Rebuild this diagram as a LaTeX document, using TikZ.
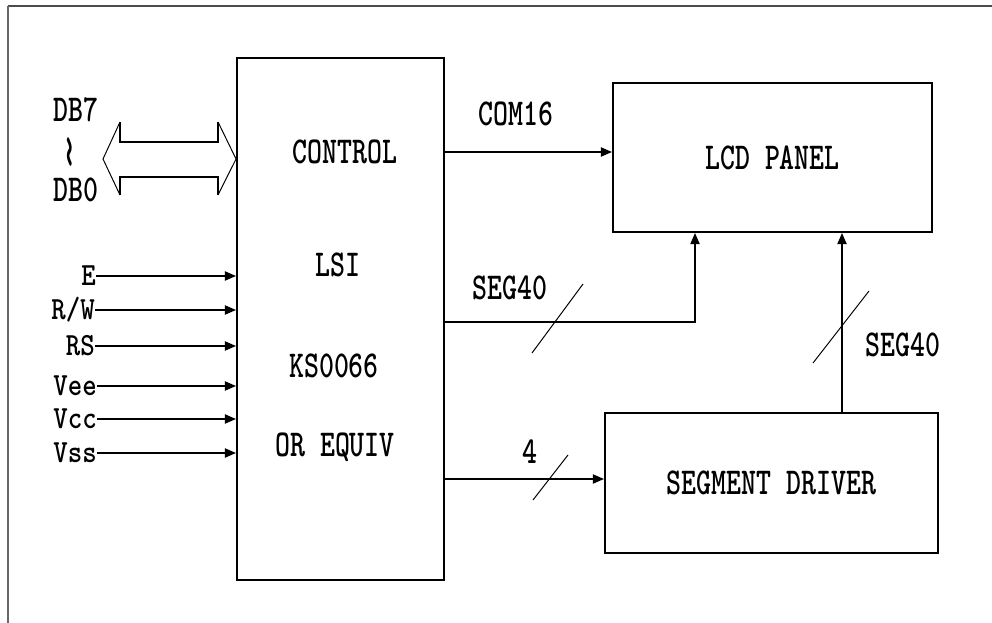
\documentclass[tikz,border=0pt]{standalone}
\usepackage{graphicx}
\usetikzlibrary{positioning,arrows.meta}

\newcommand{\lcdtxt}[1]{\scalebox{0.75}[1]{#1}}
\newcommand{\pintxt}[1]{\scalebox{0.85}[1]{#1}}

\begin{document}
\begin{tikzpicture}[
    x=0.025cm, y=-0.025cm,
    block/.style={
        rectangle,
        draw=black,
        line width=1.3pt,
        inner sep=0pt,
        font=\ttfamily\bfseries\fontsize{27}{30}\selectfont
    },
    lbl/.style={inner sep=1pt, font=\ttfamily\bfseries\fontsize{27}{30}\selectfont},
    pin/.style={anchor=east, inner sep=0pt, font=\ttfamily\bfseries\fontsize{23}{25}\selectfont},
    arrow/.style={-{Triangle[length=8pt,width=6.5pt]}, line width=1.3pt},
    slash/.style={line width=0.7pt},
    frame/.style={line width=2pt, black!70}
]
\useasboundingbox (0,0) rectangle (992,623);
\draw[frame] (8,6) -- (992,6);
\draw[line width=1pt, black!60] (8,6) -- (8,623);

% blocks
\node[block, minimum width=5.175cm, minimum height=13.05cm] (lsi) at (340.5,319) {};
\node[block, minimum width=7.975cm, minimum height=3.725cm] (lcd) at (772.5,157.5) {\lcdtxt{LCD PANEL}};
\node[block, minimum width=8.325cm, minimum height=3.5cm] (seg) at (771.5,483) {\lcdtxt{SEGMENT DRIVER}};

\node[lbl] (ctl) at (345,152) {\lcdtxt{CONTROL}};
\node[lbl] (lsiname) at (338,265) {\lcdtxt{LSI}};
\node[lbl] (chip) at (334,366) {\lcdtxt{KS0066}};
\node[lbl] (equiv) at (335,447) {\lcdtxt{OR EQUIV}};

% data bus
\node[lbl] (db7) at (76,110) {\lcdtxt{DB7}};
\node[lbl, font=\ttfamily\fontsize{27}{30}\selectfont, rotate=90] (tl) at (75,152) {\scalebox{2.2}[1.1]{\textasciitilde}};
\node[lbl] (db0) at (76,190) {\lcdtxt{DB0}};
\draw[line width=1.3pt] (120,122) -- (120,142) -- (218,142) -- (218,122);
\draw[line width=1.3pt] (120,195) -- (120,177) -- (218,177) -- (218,195);
\draw[slash] (120,122) -- (103,159) -- (120,195);
\draw[slash] (218,122) -- (lsi.west |- 0,159) -- (218,195);

% control inputs
\node[pin] (se) at (96,276) {\pintxt{E}};
\node[pin] (srw) at (95,310) {\pintxt{R/W}};
\node[pin] (srs) at (95,346) {\pintxt{RS}};
\node[pin] (svee) at (97,386) {\pintxt{Vee}};
\node[pin] (svcc) at (97,419) {\pintxt{Vcc}};
\node[pin] (svss) at (97,453) {\pintxt{Vss}};

\draw[arrow] (se.east) -- (se.east -| lsi.west);
\draw[arrow] (srw.east) -- (srw.east -| lsi.west);
\draw[arrow] (srs.east) -- (srs.east -| lsi.west);
\draw[arrow] (svee.east) -- (svee.east -| lsi.west);
\draw[arrow] (svcc.east) -- (svcc.east -| lsi.west);
\draw[arrow] (svss.east) -- (svss.east -| lsi.west);

% outputs
\node[lbl] (com) at (516,114) {\lcdtxt{COM16}};
\draw[arrow] (lsi.east |- 0,152) -- (lcd.west |- 0,152);

\node[lbl] (segl) at (510,288) {\lcdtxt{SEG40}};
\draw[arrow] (lsi.east |- 0,322) -| (lcd.south -| 695,0);
\draw[slash] (532,353) -- (583,284);

\node[lbl] (segr) at (903,345) {\lcdtxt{SEG40}};
\draw[arrow] (seg.north -| 842,0) -- (lcd.south -| 842,0);
\draw[slash] (813,363) -- (869,291);

\node[lbl] (four) at (530,452) {\lcdtxt{4}};
\draw[arrow] (lsi.east |- 0,479) -- (seg.west |- 0,479);
\draw[slash] (533,500) -- (568,455);
\end{tikzpicture}
\end{document}
